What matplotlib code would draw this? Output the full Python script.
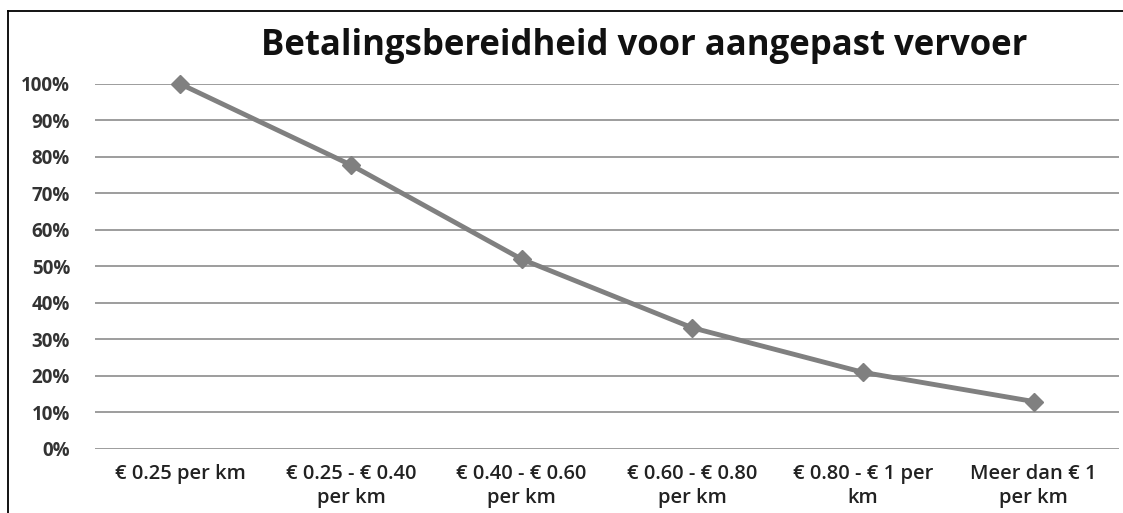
import matplotlib.pyplot as plt
from matplotlib.lines import Line2D
from matplotlib.ticker import PercentFormatter

# categories and share willing to pay
categories = ['€ 0.25 per km', '€ 0.25 - € 0.40\nper km', '€ 0.40 - € 0.60\nper km',
              '€ 0.60 - € 0.80\nper km', '€ 0.80 - € 1 per\nkm', 'Meer dan € 1\nper km']
values = [100, 77.8, 52, 33.2, 21.0, 13.0]
yticks = list(range(0, 101, 10))

fig = plt.figure(figsize=(11.23, 5.13), dpi=100)
ax = fig.add_axes([0.0846, 0.1248, 0.9118, 0.7115])

x = list(range(len(categories)))
ax.plot(x, values, color='#808080', linewidth=3.5, marker='D', markersize=9,
        markerfacecolor='#808080', markeredgecolor='#808080', clip_on=False)

ax.set_xlim(-0.5, len(categories) - 0.5)
ax.set_ylim(0, 100)
ax.set_yticks(yticks)
ax.yaxis.set_major_formatter(PercentFormatter(decimals=0))
ax.set_xticks(x)
ax.set_xticklabels(categories, fontsize=14.5, family='Open Sans', fontweight='semibold',
                   color='#222222', linespacing=1.25)
for lab in ax.get_yticklabels():
    lab.set_fontsize(13.5)
    lab.set_family('Open Sans')
    lab.set_fontweight('bold')
    lab.set_color('#333333')

ax.grid(axis='y', color='#8c8c8c', linewidth=1.2)
ax.set_axisbelow(True)
for s in ax.spines.values():
    s.set_visible(False)
ax.tick_params(length=0)
ax.tick_params(axis='y', pad=18)
ax.tick_params(axis='x', pad=11)

fig.text(0.574, 0.91, 'Betalingsbereidheid voor aangepast vervoer', ha='center', va='center',
         fontsize=25, family='Open Sans', fontweight='bold', color='#111111')

# outer frame (left and top)
fig.add_artist(Line2D([8 / 1123, 8 / 1123], [0, 1 - 11 / 513], transform=fig.transFigure,
                      color='black', linewidth=1.3))
fig.add_artist(Line2D([8 / 1123, 1], [1 - 11 / 513, 1 - 11 / 513], transform=fig.transFigure,
                      color='black', linewidth=1.3))

fig.savefig('out.png', dpi=100)
